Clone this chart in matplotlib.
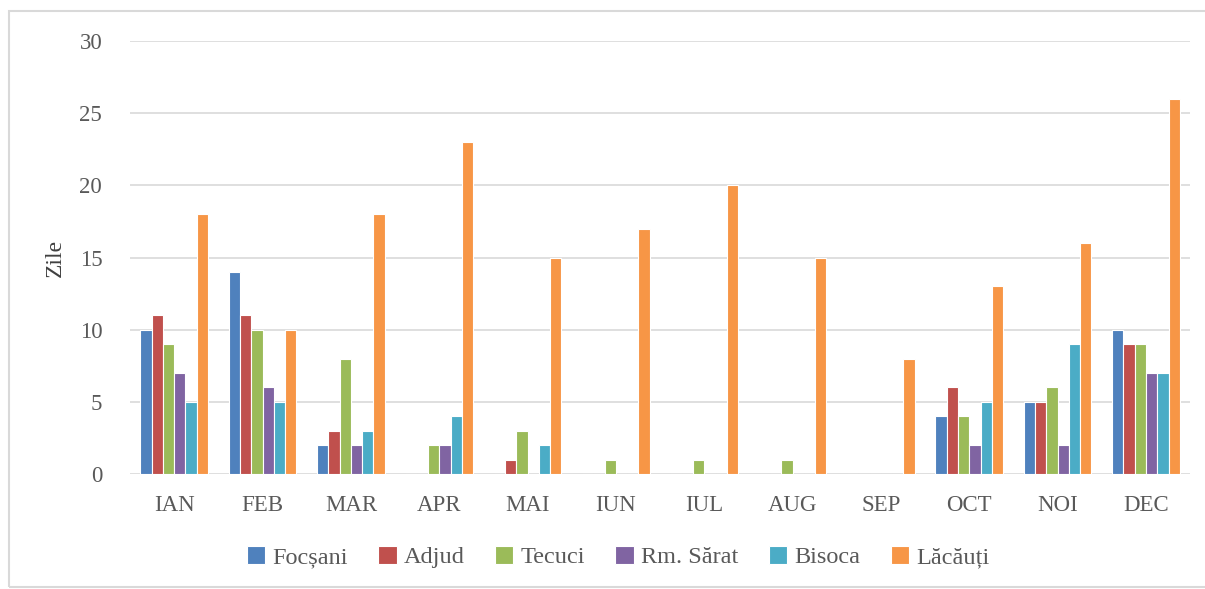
import matplotlib
matplotlib.use("Agg")
import matplotlib.pyplot as plt
import numpy as np
from matplotlib.patches import Rectangle

months = ["IAN", "FEB", "MAR", "APR", "MAI", "IUN", "IUL", "AUG", "SEP", "OCT", "NOI", "DEC"]
series_names = ["Focșani", "Adjud", "Tecuci", "Rm. Sărat", "Bisoca", "Lăcăuți"]
focsani = [10, 14, 2, 0, 0, 0, 0, 0, 0, 4, 5, 10]
adjud = [11, 11, 3, 0, 1, 0, 0, 0, 0, 6, 5, 9]
tecuci = [9, 10, 8, 2, 3, 1, 1, 1, 0, 4, 6, 9]
rm_sarat = [7, 6, 2, 2, 0, 0, 0, 0, 0, 2, 2, 7]
bisoca = [5, 5, 3, 4, 2, 0, 0, 0, 0, 5, 9, 7]
lacauti = [18, 10, 18, 23, 15, 17, 20, 15, 8, 13, 16, 26]
colors = ["#4F81BD", "#C0504D", "#9BBB59", "#8064A2", "#4BACC6", "#F79646"]

plt.rcParams['font.family'] = ['Liberation Serif', 'DejaVu Serif']

fig = plt.figure(figsize=(12.05, 5.89), dpi=100)
ax = fig.add_axes([0.1079, 0.1952, 0.8797, 0.7352])

data = [focsani, adjud, tecuci, rm_sarat, bisoca, lacauti]
x = np.arange(len(months))
bw = 0.128
for i, (vals, c, name) in enumerate(zip(data, colors, series_names)):
    ax.bar(x + (i - 2.5) * bw, vals, width=bw, color=c, edgecolor="white",
           linewidth=0.8, label=name, zorder=3)

ax.set_xlim(-0.5, len(months) - 0.5)
ax.set_ylim(0, 30)
ax.set_yticks(range(0, 31, 5))
ax.set_xticks(x)
ax.set_xticklabels(months)
ax.tick_params(axis='both', length=0, labelsize=16.5, colors="#595959")
ax.tick_params(axis='y', pad=20)
ax.tick_params(axis='x', pad=15)
ax.grid(axis='y', color="#D9D9D9", linewidth=1.2, zorder=0)
for s in ax.spines.values():
    s.set_visible(False)
ax.set_ylabel("Zile", fontsize=17, color="#404040", labelpad=10)

leg = fig.legend(loc="center", bbox_to_anchor=(0.513, 0.054), ncol=6, frameon=False,
                 fontsize=17.5, handlelength=0.75, handleheight=0.75, handletextpad=0.3,
                 columnspacing=1.25)
for t in leg.get_texts():
    t.set_color("#595959")

fig.patches.append(Rectangle((9 / 1205, 2 / 589), 1300 / 1205, (589 - 13) / 589,
                             transform=fig.transFigure, fill=False,
                             edgecolor="#D9D9D9", linewidth=1.5))

fig.savefig("out.png", dpi=100)
